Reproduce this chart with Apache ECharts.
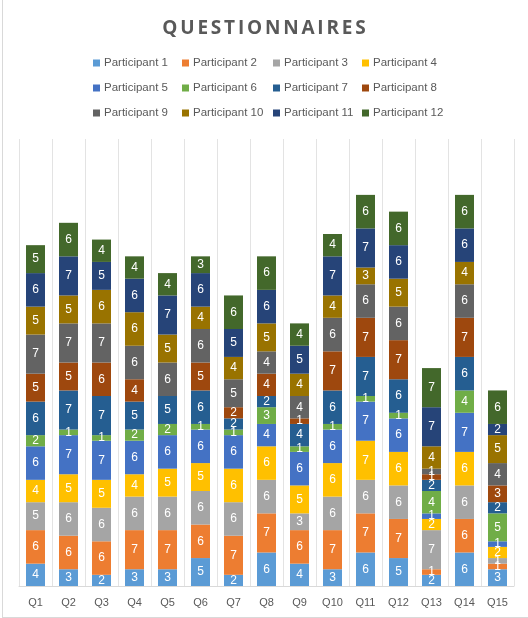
<!DOCTYPE html>
<html>
<head>
<meta charset="utf-8">
<script src="https://cdn.jsdelivr.net/npm/echarts@6/dist/echarts.min.js"></script>
<style>
html,body{margin:0;padding:0;background:#fff;overflow:hidden;}
#frame{position:absolute;left:2px;top:-2px;width:540px;height:620px;border:1px solid #d9d9d9;box-sizing:border-box;}
#chart{position:absolute;left:0;top:0;width:528px;height:618px;}
</style>
</head>
<body>
<div id="frame"></div>
<div id="chart"></div>
<script>
const categories = ['Q1','Q2','Q3','Q4','Q5','Q6','Q7','Q8','Q9','Q10','Q11','Q12','Q13','Q14','Q15'];
const seriesNames = ['Participant 1','Participant 2','Participant 3','Participant 4','Participant 5','Participant 6','Participant 7','Participant 8','Participant 9','Participant 10','Participant 11','Participant 12'];
//            Q1 Q2 Q3 Q4 Q5 Q6 Q7 Q8 Q9 Q10 Q11 Q12 Q13 Q14 Q15
const p1  = [4, 3, 2, 3, 3, 5, 2, 6, 4, 3, 6, 5, 2, 6, 3];
const p2  = [6, 6, 6, 7, 7, 6, 7, 7, 6, 7, 7, 7, 1, 6, 1];
const p3  = [5, 6, 6, 6, 6, 6, 6, 6, 3, 6, 6, 6, 7, 6, 1];
const p4  = [4, 5, 5, 4, 5, 5, 6, 6, 5, 6, 7, 6, 2, 6, 2];
const p5  = [6, 7, 7, 6, 6, 6, 6, 4, 6, 6, 7, 6, 1, 7, 1];
const p6  = [2, 1, 1, 2, 2, 1, 1, 3, 1, 1, 1, 1, 4, 4, 5];
const p7  = [6, 7, 7, 5, 5, 6, 2, 2, 4, 6, 7, 6, 2, 6, 2];
const p8  = [5, 5, 6, 4, 0, 5, 2, 4, 1, 7, 7, 7, 1, 7, 3];
const p9  = [7, 7, 7, 6, 6, 6, 5, 4, 4, 6, 6, 6, 1, 6, 4];
const p10 = [5, 5, 6, 6, 5, 4, 4, 5, 4, 4, 3, 5, 4, 4, 5];
const p11 = [6, 7, 5, 6, 7, 6, 5, 6, 5, 7, 7, 6, 7, 6, 2];
const p12 = [5, 6, 4, 4, 4, 3, 6, 6, 4, 4, 6, 6, 7, 6, 6];
const values = [p1,p2,p3,p4,p5,p6,p7,p8,p9,p10,p11,p12];
const titleText = 'QUESTIONNAIRES';
const colors = ['#5B9BD5','#ED7D31','#A5A5A5','#FFC000','#4472C4','#70AD47','#255E91','#9E480E','#636363','#997300','#264478','#43682B'];

const chart = echarts.init(document.getElementById('chart'), null, {renderer:'canvas'});
const font = '"Liberation Sans", "DejaVu Sans", sans-serif';
const legendX = [88, 177, 268, 357];
const legends = legendX.map((x, i) => ({
  orient: 'vertical',
  left: x,
  top: 52,
  itemWidth: 7,
  itemHeight: 7,
  itemGap: 13,
  icon: 'rect',
  selectedMode: false,
  textStyle: {color: '#595959', fontSize: 11.5, fontFamily: font, padding: [0,0,0,-1]},
  data: [seriesNames[i], seriesNames[i+4], seriesNames[i+8]]
}));

chart.setOption({
  animation: false,
  color: colors,
  title: {
    text: titleText.split('').map(c => '{l|' + c + '}').join(''),
    left: 'center',
    top: 14,
    textStyle: {
      rich: {
        l: {color: '#595959', fontSize: 19, fontWeight: 'bold', fontFamily: '"Open Sans", "DejaVu Sans", sans-serif', padding: [0, 1.4, 0, 1.4]}
      }
    }
  },
  legend: legends,
  grid: {left: 19, right: 14, top: 139, bottom: 32},
  xAxis: {
    type: 'category',
    data: categories,
    axisLine: {lineStyle: {color: '#d9d9d9'}},
    axisTick: {show: false},
    axisLabel: {color: '#595959', fontSize: 11, fontFamily: font, margin: 11},
    splitLine: {show: true, lineStyle: {color: '#e3e3e3', width: 1}}
  },
  yAxis: {
    type: 'value',
    min: 0,
    max: 80,
    show: false,
    splitLine: {show: false}
  },
  series: seriesNames.map((name, i) => ({
    name: name,
    type: 'bar',
    stack: 'total',
    barWidth: 19,
    data: values[i],
    itemStyle: {color: colors[i]},
    label: {
      show: true,
      position: 'inside',
      color: '#fff',
      fontSize: 12,
      fontFamily: font,
      formatter: p => p.value ? String(p.value) : ''
    }
  }))
});
</script>
</body>
</html>
